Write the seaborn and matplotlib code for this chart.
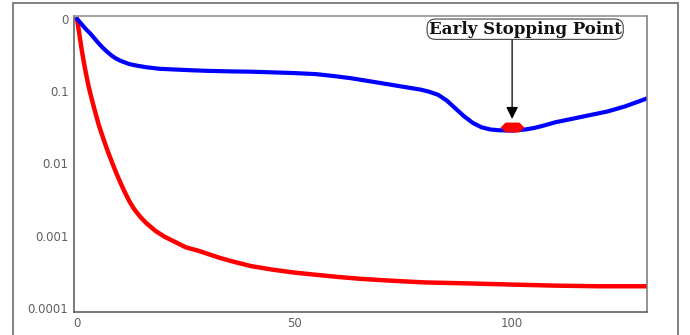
import numpy as np
import pandas as pd
import matplotlib
matplotlib.use("Agg")
import matplotlib.pyplot as plt
from matplotlib.path import Path
from matplotlib.patches import Rectangle
import seaborn as sns

# ---- data ----
train_epochs = [0, 0.5, 1, 1.5, 2, 2.5, 3, 4, 5, 6, 7, 8, 9, 10, 11, 12, 13, 14,
                15, 16, 18, 20, 22, 25, 28, 30, 33, 36, 40, 45, 50, 55, 60, 65,
                70, 75, 80, 90, 100, 110, 120, 131]
train_error = [1.0, 0.631, 0.398, 0.263, 0.182, 0.129, 0.0955, 0.0562, 0.0339,
               0.0224, 0.0151, 0.0105, 0.00741, 0.00537, 0.00398, 0.00302,
               0.0024, 0.002, 0.0017, 0.00148, 0.00117, 0.000977, 0.000851,
               0.000692, 0.000617, 0.000562, 0.00049, 0.000437, 0.00038,
               0.000339, 0.000309, 0.000288, 0.000269, 0.000254, 0.000243,
               0.000234, 0.000226, 0.000219, 0.000211, 0.000204, 0.0002, 0.0002]
valid_epochs = [0, 1, 2, 3, 4, 5, 6, 7, 8, 9, 10, 12, 14, 16, 19, 22, 26, 30,
                35, 40, 45, 50, 55, 59, 63, 67, 71, 75, 79, 81, 83, 85, 87, 89,
                91, 93, 95, 97, 100, 103, 105, 107, 110, 114, 118, 122, 126, 131]
valid_error = [1.0, 0.851, 0.724, 0.631, 0.537, 0.457, 0.394, 0.347, 0.309,
               0.282, 0.263, 0.237, 0.224, 0.214, 0.204, 0.2, 0.195, 0.191,
               0.188, 0.186, 0.182, 0.178, 0.172, 0.162, 0.151, 0.138, 0.126,
               0.115, 0.105, 0.098, 0.089, 0.074, 0.0575, 0.0447, 0.0363,
               0.0316, 0.0295, 0.0288, 0.0285, 0.0295, 0.0309, 0.0331, 0.0372,
               0.0417, 0.0468, 0.0525, 0.0617, 0.0794]
stop_epoch = 100
stop_error = 0.032
yticks = [1, 0.1, 0.01, 0.001, 0.0001]
ytick_labels = ["0", "0.1", "0.01", "0.001", "0.0001"]
xticks = [0, 50, 100]
xtick_labels = ["0", "50", "100"]
annotation_text = "Early Stopping Point"

df_train = pd.DataFrame({"epoch": train_epochs, "error": train_error})
df_valid = pd.DataFrame({"epoch": valid_epochs, "error": valid_error})

sns.set_theme(style="white")
plt.rcParams["font.family"] = ["DejaVu Sans"]

fig = plt.figure(figsize=(6.9, 3.35), dpi=100)
ax = fig.add_axes([74 / 690, 23 / 335, (647 - 74) / 690, (312 - 16) / 335])

sns.lineplot(data=df_train, x="epoch", y="error", color="#ff0000", linewidth=3.2,
             ax=ax, solid_capstyle="round", solid_joinstyle="round")
sns.lineplot(data=df_valid, x="epoch", y="error", color="#0000ff", linewidth=3.0,
             ax=ax, solid_capstyle="round", solid_joinstyle="round")

# early stopping marker (stretched hexagon)
hexv = [(-1.2, 0), (-0.7, 0.5), (0.7, 0.5), (1.2, 0), (0.7, -0.5), (-0.7, -0.5), (-1.2, 0)]
ax.plot([stop_epoch], [stop_error], marker=Path(hexv, closed=True), markersize=17,
        color="#ff0000", markeredgewidth=0, linestyle="none", zorder=5)

ax.set_yscale("log")
ax.set_xlim(-0.7, 131)
ax.set_ylim(10 ** -4.055, 10 ** 0.04)
ax.set_xticks(xticks)
ax.set_xticklabels(xtick_labels)
ax.set_yticks(yticks)
ax.set_yticklabels(ytick_labels)
ax.minorticks_off()
ax.set_xlabel("")
ax.set_ylabel("")
ax.tick_params(axis="both", length=0, labelsize=8.5, labelcolor="#606060")
ax.tick_params(axis="y", pad=4)
ax.tick_params(axis="x", pad=3.5)
for side, sp in ax.spines.items():
    sp.set_visible(True)
    sp.set_color("#555555")
    sp.set_linewidth(1.1)
ax.spines["top"].set_color("#888888")
ax.spines["right"].set_color("#777777")

# annotation arrow and label
ax.annotate("", xy=(stop_epoch, 0.0413), xytext=(stop_epoch, 0.546),
            arrowprops=dict(arrowstyle="-|>,head_length=0.6,head_width=0.3",
                            color="black", lw=0.9, shrinkA=0, shrinkB=0))
ax.text(103, 0.72, annotation_text, ha="center", va="center",
        fontsize=12, fontweight="bold", family=["DejaVu Serif"], color="#111111",
        bbox=dict(boxstyle="round,pad=0.1,rounding_size=0.5", fc="white",
                  ec="#444444", lw=0.8))

# outer frame
fig.add_artist(Rectangle((13 / 690, -0.2), (678 - 13) / 690, 1.2 - 3 / 335,
                         transform=fig.transFigure, fill=False,
                         edgecolor="#808080", linewidth=1.4))

fig.savefig("out.png", dpi=100)
